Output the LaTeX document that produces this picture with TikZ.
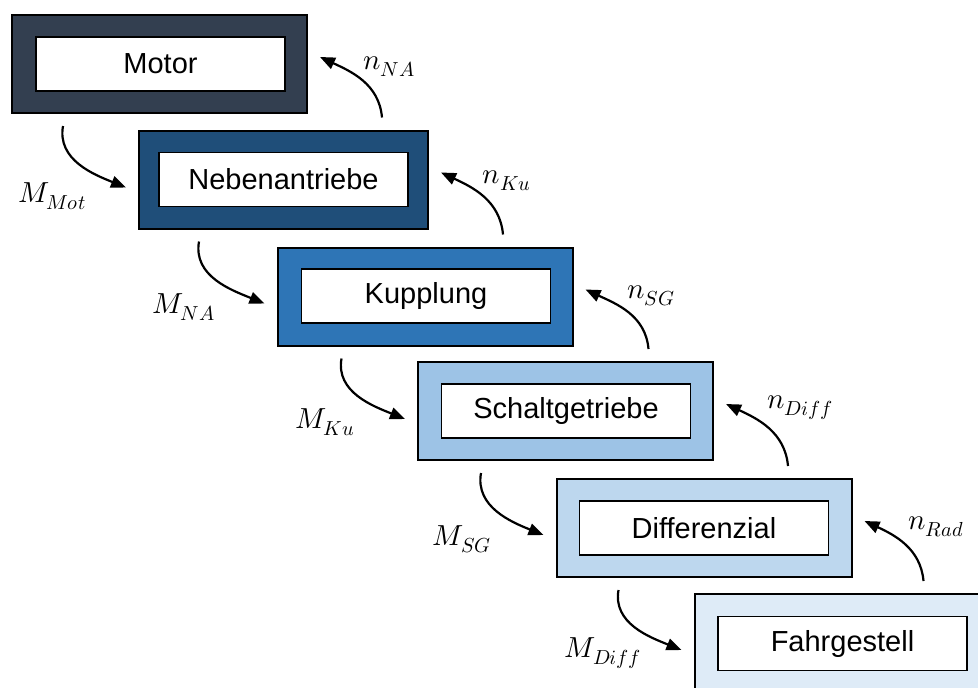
\documentclass[tikz,border=0pt]{standalone}
\usepackage{fontspec}
\usepackage{unicode-math}
\setmainfont{Liberation Sans}
\setmathfont{Latin Modern Math}
\usetikzlibrary{arrows.meta,calc}
\definecolor{cMotor}{HTML}{333F50}
\definecolor{cNeben}{HTML}{1F4E79}
\definecolor{cKupp}{HTML}{2E75B6}
\definecolor{cSchalt}{HTML}{9DC3E6}
\definecolor{cDiff}{HTML}{BDD7EE}
\definecolor{cFahr}{HTML}{DEEBF7}
\tikzset{
  outerbox/.style={draw=black, line width=2pt, minimum width=295pt, minimum height=98pt, inner sep=0pt},
  innerbox/.style={draw=black, fill=white, line width=1.6pt, minimum width=249pt, minimum height=54pt, inner sep=0pt,
    font=\fontsize{29}{34}\selectfont},
  flowarrow/.style={line width=2.2pt, -{Triangle[length=15pt,width=12pt]}},
  lbl/.style={font=\fontsize{29}{34}\selectfont, inner sep=0pt}
}
\begin{document}
\begin{tikzpicture}[x=1pt,y=-1pt]
\useasboundingbox (0,0) rectangle (978,688);
\clip (0,0) rectangle (978,688);
% boxes
\node[outerbox, fill=cMotor]  (motorO)  at (159.5,64)  {};
\node[innerbox]               (motor)   at (160.5,64)  {Motor};
\node[outerbox, fill=cNeben, minimum width=289pt] (nebenO) at (283.5,179.5) {};
\node[innerbox]               (neben)   at (283.5,179.5) {Nebenantriebe};
\node[outerbox, fill=cKupp]   (kuppO)   at (425,296.5) {};
\node[innerbox]               (kupp)    at (426,296) {Kupplung};
\node[outerbox, fill=cSchalt] (schaltO) at (565.5,411) {};
\node[innerbox]               (schalt)  at (566,411) {Schaltgetriebe};
\node[outerbox, fill=cDiff]   (diffO)   at (704,528) {};
\node[innerbox]               (diff)    at (704,528) {Differenzial};
\node[outerbox, fill=cFahr]   (fahrO)   at (842,643) {};
\node[innerbox]               (fahr)    at (842.5,643.5) {Fahrgestell};
% torque arrows (down)
\draw[flowarrow] ([xshift=52pt,yshift=-12pt]motorO.south west) to[out=-100,in=158] ([xshift=-12pt,yshift=-8pt]nebenO.west);
\draw[flowarrow] ([xshift=61pt,yshift=-12pt]nebenO.south west) to[out=-100,in=158] ([xshift=-12pt,yshift=-7pt]kuppO.west);
\draw[flowarrow] ([xshift=65pt,yshift=-12pt]kuppO.south west) to[out=-100,in=158] ([xshift=-12pt,yshift=-8pt]schaltO.west);
\draw[flowarrow] ([xshift=64pt,yshift=-12pt]schaltO.south west) to[out=-100,in=158] ([xshift=-12pt,yshift=-7pt]diffO.west);
\draw[flowarrow] ([xshift=63pt,yshift=-12pt]diffO.south west) to[out=-100,in=158] ([xshift=-12pt,yshift=-7pt]fahrO.west);
% speed arrows (up)
\draw[flowarrow] ([xshift=74pt,yshift=12pt]motorO.south east |- nebenO.north) to[out=95,in=-25] ([xshift=12pt,yshift=7pt]motorO.east);
\draw[flowarrow] ([xshift=74pt,yshift=12pt]nebenO.south east |- kuppO.north) to[out=95,in=-25] ([xshift=12pt,yshift=7pt]nebenO.east);
\draw[flowarrow] ([xshift=75pt,yshift=12pt]kuppO.south east |- schaltO.north) to[out=95,in=-25] ([xshift=12pt,yshift=7pt]kuppO.east);
\draw[flowarrow] ([xshift=74pt,yshift=12pt]schaltO.south east |- diffO.north) to[out=95,in=-25] ([xshift=12pt,yshift=7pt]schaltO.east);
\draw[flowarrow] ([xshift=71pt,yshift=12pt]diffO.south east |- fahrO.north) to[out=95,in=-25] ([xshift=12pt,yshift=7pt]diffO.east);
% labels
\node[lbl] (lMMot)  at (52,196)  {$M_{Mot}$};
\node[lbl] (lMNA)   at (184,307) {$M_{NA}$};
\node[lbl] (lMKu)   at (325,422) {$M_{Ku}$};
\node[lbl] (lMSG)   at (462,539) {$M_{SG}$};
\node[lbl] (lMDiff) at (603,653) {$M_{Diff}$};
\node[lbl] (lnNA)   at (389,67)  {$n_{NA}$};
\node[lbl] (lnKu)   at (507,181) {$n_{Ku}$};
\node[lbl] (lnSG)   at (651,296) {$n_{SG}$};
\node[lbl] (lnDiff) at (800,408) {$n_{Diff}$};
\node[lbl] (lnRad)  at (936,527) {$n_{Rad}$};
\end{tikzpicture}
\end{document}
